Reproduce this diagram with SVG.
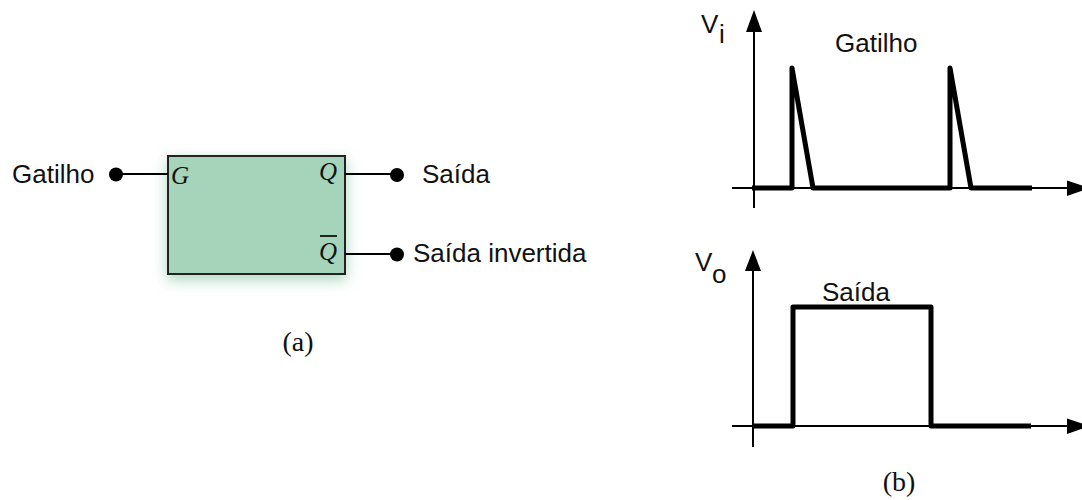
<svg xmlns="http://www.w3.org/2000/svg" width="1082" height="500" viewBox="0 0 1082 500">
<defs>
<style>
.sans{font-family:"Liberation Sans",Arial,sans-serif;font-size:26px;fill:#111}
.serif{font-family:"Liberation Serif","Times New Roman",serif;fill:#111}
.it{font-style:italic;font-size:25px}
.thin{stroke:#000;stroke-width:2;fill:none}
.thick{stroke:#000;stroke-width:5;fill:none;stroke-linejoin:round}
.dot{fill:#000}
</style>
<filter id="glow" x="-20%" y="-20%" width="140%" height="150%">
<feGaussianBlur in="SourceAlpha" stdDeviation="7"/>
<feOffset dx="0" dy="5" result="b"/>
<feFlood flood-color="#8fc9a6" flood-opacity="0.75"/>
<feComposite in2="b" operator="in"/>
<feMerge><feMergeNode/><feMergeNode in="SourceGraphic"/></feMerge>
</filter>
</defs>
<rect width="1082" height="500" fill="#fff"/>

<g id="block">
<rect x="168" y="156" width="177" height="118" fill="#a6d4bb" stroke="#222" stroke-width="2" filter="url(#glow)"/>
<text class="serif it" x="171" y="184">G</text>
<text class="serif it" x="319" y="180">Q</text>
<line x1="320" y1="236" x2="337" y2="236" stroke="#111" stroke-width="1.8"/>
<text class="serif it" x="319" y="260">Q</text>
</g>

<g id="connectors">
<line class="thin" x1="116" y1="174" x2="168" y2="174"/>
<line class="thin" x1="345" y1="174" x2="397" y2="174"/>
<line class="thin" x1="345" y1="254" x2="397" y2="254"/>
</g>

<g id="in-gatilho">
<circle class="dot" cx="116" cy="174.5" r="7"/>
<text class="sans" x="12" y="183">Gatilho</text>
</g>
<g id="out-saida">
<circle class="dot" cx="397" cy="175" r="7"/>
<text class="sans" x="422" y="183">Saída</text>
</g>
<g id="out-saida-invertida">
<circle class="dot" cx="397" cy="254.5" r="7"/>
<text class="sans" x="413" y="262">Saída invertida</text>
</g>
<text id="label-a" class="serif" font-size="28" x="298" y="351" text-anchor="middle">(a)</text>

<g id="graph-vi">
<line class="thin" x1="754" y1="28" x2="754" y2="208"/>
<polygon points="754,10 746,32 762,32" fill="#000"/>
<line class="thin" x1="732" y1="188" x2="1070" y2="188"/>
<polygon points="1067,180.5 1067,196 1090,188" fill="#000"/>
<path class="thick" d="M752 188 H792 V68 L813 188 H950 V68 L971 188 H1032"/>
<text class="sans" x="701" y="33" font-size="24">V</text>
<text class="sans" x="719" y="43" font-size="22">i</text>
<text class="sans" x="835" y="52">Gatilho</text>
</g>

<g id="graph-vo">
<line class="thin" x1="753" y1="268" x2="753" y2="447"/>
<polygon points="753,250 745,271 761,271" fill="#000"/>
<line class="thin" x1="732" y1="426" x2="1070" y2="426"/>
<polygon points="1067,418.5 1067,434 1090,426" fill="#000"/>
<path class="thick" d="M752 426 H793 V307 H931 V426 H1031"/>
<text class="sans" x="695" y="271" font-size="24">V</text>
<text class="sans" x="712" y="283" font-size="22">o</text>
<text class="sans" x="822" y="301">Saída</text>
</g>
<text id="label-b" class="serif" font-size="28" x="899" y="491" text-anchor="middle">(b)</text>
</svg>
